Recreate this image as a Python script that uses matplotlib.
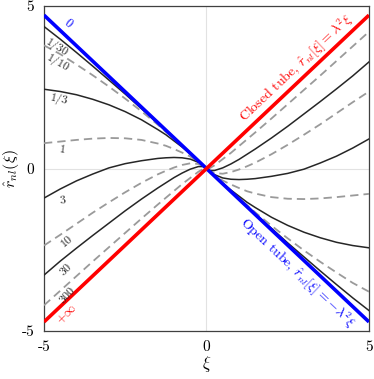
import matplotlib
matplotlib.use("Agg")
import matplotlib.pyplot as plt

plt.rcParams["font.family"] = ["cmr10", "DejaVu Serif"]
plt.rcParams["mathtext.fontset"] = "cm"
plt.rcParams["axes.unicode_minus"] = False

# xi sample points and curve values
xi = [-5, -4.5, -4, -3.5, -3, -2.5, -2, -1.5, -1.25, -1, -0.75, -0.5, -0.25, -0.1, 0,
      0.1, 0.25, 0.5, 0.75, 1, 1.25, 1.5, 2, 2.5, 3, 3.5, 4, 4.5, 5]

r_1_30 = [4.37, 3.98, 3.57, 3.15, 2.72, 2.29, 1.84, 1.39, 1.17, 0.94, 0.70, 0.47, 0.24, 0.09, 0,
          -0.09, -0.24, -0.47, -0.70, -0.94, -1.17, -1.39, -1.84, -2.29, -2.72, -3.15, -3.57, -3.98, -4.37]
r_1_10 = [3.79, 3.52, 3.20, 2.87, 2.52, 2.15, 1.76, 1.35, 1.13, 0.92, 0.69, 0.47, 0.23, 0.09, 0,
          -0.09, -0.23, -0.47, -0.69, -0.92, -1.13, -1.35, -1.76, -2.15, -2.52, -2.87, -3.20, -3.52, -3.79]
r_1_3 = [2.44, 2.37, 2.27, 2.13, 1.96, 1.75, 1.50, 1.20, 1.04, 0.85, 0.66, 0.45, 0.23, 0.09, 0,
         -0.09, -0.23, -0.45, -0.66, -0.85, -1.04, -1.20, -1.50, -1.75, -1.96, -2.13, -2.27, -2.37, -2.44]
r_1 = [0.78, 0.83, 0.88, 0.92, 0.94, 0.93, 0.88, 0.77, 0.70, 0.60, 0.49, 0.37, 0.21, 0.09, 0,
       -0.09, -0.21, -0.37, -0.49, -0.60, -0.70, -0.77, -0.88, -0.93, -0.94, -0.92, -0.88, -0.83, -0.78]
r_3 = [-0.91, -0.63, -0.38, -0.17, 0.02, 0.15, 0.24, 0.31, 0.33, 0.34, 0.33, 0.29, 0.19, 0.09, 0,
       -0.09, -0.19, -0.29, -0.33, -0.34, -0.33, -0.31, -0.24, -0.15, -0.02, 0.17, 0.38, 0.63, 0.91]
r_10 = [-2.37, -2.04, -1.70, -1.36, -1.04, -0.73, -0.44, -0.18, -0.07, 0.03, 0.11, 0.16, 0.14, 0.08, 0,
        -0.08, -0.14, -0.16, -0.11, -0.03, 0.07, 0.18, 0.44, 0.73, 1.04, 1.36, 1.70, 2.04, 2.37]
r_30 = [-3.28, -2.85, -2.45, -2.06, -1.68, -1.30, -0.94, -0.60, -0.44, -0.28, -0.14, -0.02, 0.06, 0.06, 0,
        -0.06, -0.06, 0.02, 0.14, 0.28, 0.44, 0.60, 0.94, 1.30, 1.68, 2.06, 2.45, 2.85, 3.28]
r_300 = [-4.21, -3.76, -3.31, -2.86, -2.42, -1.98, -1.54, -1.11, -0.90, -0.69, -0.48, -0.29, -0.10, -0.01, 0,
         0.01, 0.10, 0.29, 0.48, 0.69, 0.90, 1.11, 1.54, 1.98, 2.42, 2.86, 3.31, 3.76, 4.21]

# limiting cases (straight lines)
xi_ends = [-5, 5]
r_open = [4.72, -4.72]
r_closed = [-4.72, 4.72]

curves = [r_1_30, r_1_10, r_1_3, r_1, r_3, r_10, r_30, r_300]
names = ["$1/30$", "$1/10$", "$1/3$", "$1$", "$3$", "$10$", "$30$", "$300$"]
label_pos = [(-4.6, 3.74), (-4.58, 3.26), (-4.54, 2.14), (-4.45, 0.6),
             (-4.42, -0.94), (-4.3, -2.23), (-4.33, -3.09), (-4.3, -3.9)]
label_rot = [-32, -30, -12, -8, 8, 40, 45, 48]

ticks = [-5, 0, 5]
tick_labels = ["-5", "0", "5"]

fig = plt.figure(figsize=(3.74, 3.79), dpi=100)
ax = fig.add_axes([0.1176, 0.1266, 0.8690, 0.8575])

for i, vals in enumerate(curves):
    if i % 2 == 0:
        ax.plot(xi, vals, color="#262626", lw=1.1, zorder=3)
    else:
        ax.plot(xi, vals, color="#9a9a9a", lw=1.3, dashes=(4.6, 2.8), zorder=3)
    ax.text(label_pos[i][0], label_pos[i][1], names[i], fontsize=8.5, rotation=label_rot[i],
            ha="center", va="center", color="#262626", zorder=5)

ax.plot(xi_ends, r_open, color="#0000ff", lw=2.6, zorder=4, solid_capstyle="butt")
ax.plot(xi_ends, r_closed, color="#ff0000", lw=2.6, zorder=4, solid_capstyle="butt")

ax.text(-4.26, 4.48, "$0$", color="#0000ff", fontsize=9, rotation=-40,
        ha="center", va="center")
ax.text(-4.29, -4.48, r"$+\infty$", color="#ff0000", fontsize=9, rotation=45,
        ha="center", va="center")

ax.text(2.78, 3.09, r"Closed tube, $\hat{r}_{nl}[\xi]=\lambda^2\xi$", color="#ff0000",
        fontsize=10, rotation=43.4, rotation_mode="anchor", ha="center", va="center")
ax.text(2.78, -3.22, r"Open tube, $\hat{r}_{nl}[\xi]=-\lambda^2\xi$", color="#0000ff",
        fontsize=10, rotation=-43.4, rotation_mode="anchor", ha="center", va="center")

ax.set_xlim(-5, 5)
ax.set_ylim(-5, 5)
ax.set_xticks(ticks)
ax.set_xticklabels(tick_labels)
ax.set_yticks(ticks)
ax.set_yticklabels(tick_labels)
ax.tick_params(length=0, labelsize=11, pad=7)
ax.grid(True, color="#e2e2e2", lw=0.8)
ax.set_axisbelow(True)
for s in ax.spines.values():
    s.set_color("#404040")
    s.set_linewidth(0.9)

ax.set_xlabel(r"$\xi$", fontsize=12)
ax.xaxis.set_label_coords(0.5, -0.072)
ax.set_ylabel(r"$\hat{r}_{nl}(\xi)$", fontsize=11.5)
ax.yaxis.set_label_coords(-0.07, 0.5)

fig.savefig("out.png", dpi=100)
